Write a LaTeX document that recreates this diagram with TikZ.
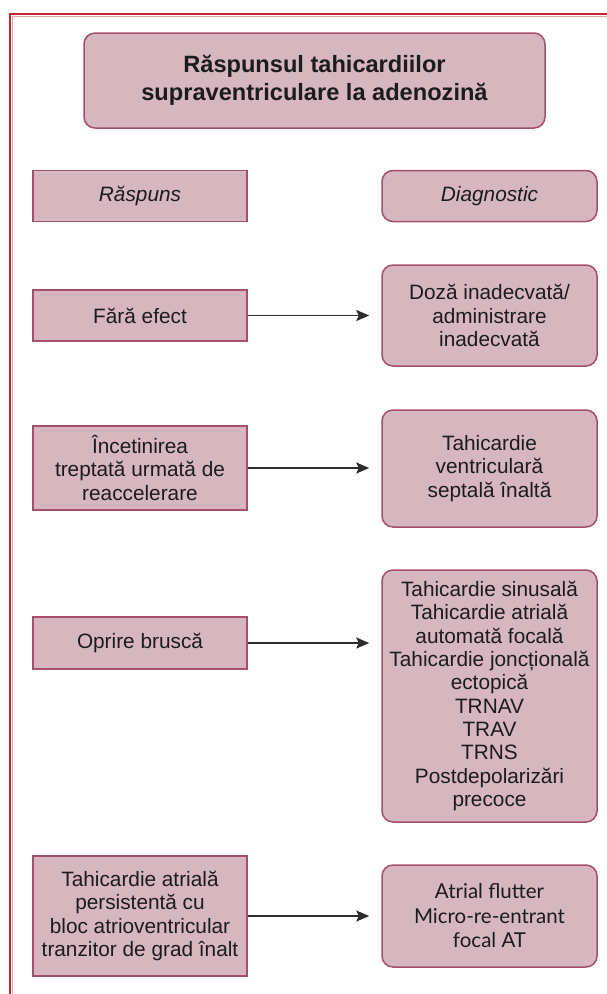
\documentclass[tikz,border=0pt]{standalone}
\usepackage{fontspec}
\setmainfont{Liberation Sans}
\newfontfamily\gillfont{Lato}
\usetikzlibrary{arrows.meta}
\definecolor{boxfill}{RGB}{214,182,191}
\definecolor{boxline}{RGB}{166,79,109}
\definecolor{txt}{RGB}{28,28,28}
\definecolor{framered}{RGB}{196,40,48}
\definecolor{framelight}{RGB}{234,165,165}
\definecolor{arr}{RGB}{45,45,45}
\tikzset{
 base/.style={draw=boxline, fill=boxfill, line width=1.5pt, text=txt, align=center, inner sep=0pt, font=\fontsize{20.8}{23.3}\selectfont},
 sqbox/.style={base, rectangle, minimum width=214pt},
 rdbox/.style={base, rounded corners=11pt, minimum width=215pt},
 arrowline/.style={draw=arr, line width=1.9pt, -{Stealth[length=13pt,width=11pt,inset=2.5pt]}, shorten >=12pt},
}
\begin{document}
\begin{tikzpicture}[x=1pt,y=-1pt]
\useasboundingbox (0,0) rectangle (607,994);
\fill[white] (0,0) rectangle (607,994);
% frame
\draw[framelight, line width=1pt] (12.3,994) -- (12.3,16.3) -- (607,16.3);
\draw[framered, line width=2.2pt] (10,994) -- (10,14) -- (607,14);
% title
\node[rdbox, minimum width=461pt, minimum height=95pt, font=\bfseries\fontsize{23.6}{27.5}\selectfont] (title) at (314.5,80.5) {Răspunsul tahicardiilor\\supraventriculare la adenozină};
% headers
\node[sqbox, minimum height=51pt] (resp) at (140,196) {\itshape Răspuns};
\node[rdbox, minimum height=51pt] (diag) at (489.5,196) {\itshape Diagnostic};
% row 1
\node[sqbox, minimum height=51pt] (fara) at (140,315.5) {Fără efect};
\node[rdbox, minimum height=101pt] (doza) at (489.5,315.5) {Doză inadecvată/\\administrare\\inadecvată};
% row 2
\node[sqbox, minimum height=84pt] (incet) at (140,468) {Încetinirea\\treptată urmată de\\reaccelerare};
\node[rdbox, minimum height=117pt] (tahiv) at (489.5,468.5) {Tahicardie\\ventriculară\\septală înaltă};
% row 3
\node[sqbox, minimum height=52pt] (oprire) at (140,643) {Oprire bruscă};
\node[rdbox, minimum height=252pt] (lista) at (489.5,696) {Tahicardie sinusală\\Tahicardie atrială\\automată focală\\Tahicardie joncțională\\ectopică\\TRNAV\\TRAV\\TRNS\\Postdepolarizări\\precoce};
% row 4
\node[sqbox, minimum height=120pt] (persist) at (140,916) {Tahicardie atrială\\persistentă cu\\bloc atrioventricular\\tranzitor de grad înalt};
\node[rdbox, minimum height=102pt, font=\gillfont\fontsize{20.5}{24.5}\selectfont] (flutter) at (489.5,916) {Atrial flutter\\Micro-re-entrant\\focal AT};
% arrows
\draw[arrowline] (fara.east) -- (fara.east -| doza.west);
\draw[arrowline] (incet.east) -- (incet.east -| tahiv.west);
\draw[arrowline] (oprire.east) -- (oprire.east -| lista.west);
\draw[arrowline] (persist.east) -- (persist.east -| flutter.west);
\end{tikzpicture}
\end{document}
